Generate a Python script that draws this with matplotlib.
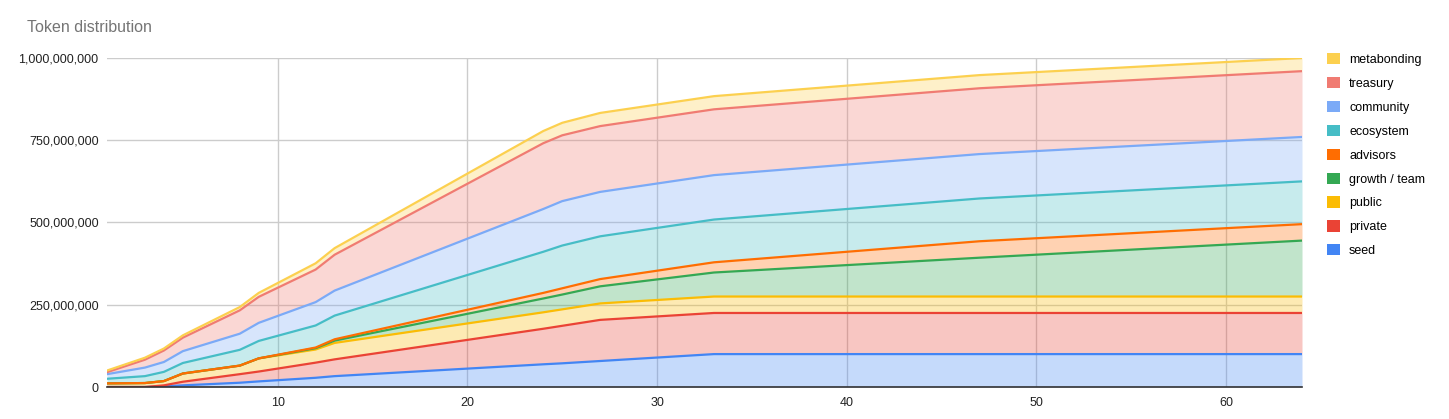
import numpy as np
import matplotlib
matplotlib.use('Agg')
import matplotlib.pyplot as plt
from matplotlib.patches import Patch
from matplotlib.ticker import FuncFormatter

plt.rcParams['font.family'] = ['Liberation Sans', 'DejaVu Sans']

# months where the curves change slope
months = [1, 3, 4, 5, 8, 9, 12, 13, 24, 25, 27, 33, 47, 64]

# tokens per bucket (millions), bottom of the stack first
seed = [0, 0, 2, 5, 13, 17, 28, 33, 69, 72, 79, 100, 100, 100]
private = [0, 0, 3, 11, 26, 30, 46, 51, 108, 114, 125, 125, 125, 125]
public = [11, 12, 13, 25, 26, 40, 40, 50, 50, 50, 50, 50, 50, 50]
growth_team = [0, 0, 0, 0, 0, 0, 4, 7, 42, 45, 52, 73, 118, 170]
advisors = [0, 0, 0, 0, 0, 0, 2, 4, 17, 19, 22, 31, 50, 50]
ecosystem = [14, 21, 28, 32, 48, 53, 67, 72, 125, 130, 130, 130, 130, 130]
community = [14, 26, 30, 36, 49, 55, 71, 76, 130, 135, 135, 135, 135, 135]
treasury = [6, 24, 35, 41, 71, 79, 99, 109, 200, 200, 200, 200, 200, 200]
metabonding = [5, 6, 6, 7, 10, 12, 19, 20, 37, 38, 40, 40, 40, 40]

names = ['seed', 'private', 'public', 'growth / team', 'advisors',
         'ecosystem', 'community', 'treasury', 'metabonding']
series = [seed, private, public, growth_team, advisors,
          ecosystem, community, treasury, metabonding]
colors = ['#4285F4', '#EA4335', '#FBBC04', '#34A853', '#FF6D01',
          '#46BDC6', '#7BAAF7', '#F07B72', '#FCD04F']

x = np.array(months)
vals = np.array(series, dtype=float) * 1e6
tops = np.cumsum(vals, axis=0)

fig = plt.figure(figsize=(14.49, 4.19), dpi=100)
ax = fig.add_axes([107 / 1449, 1 - 387 / 419, (1302 - 107) / 1449, (387 - 58) / 419])

bottom = np.zeros(len(x))
for top, c in zip(tops, colors):
    ax.fill_between(x, bottom, top, color=c, alpha=0.3, linewidth=0, zorder=2)
    bottom = top
for top, c in zip(tops, colors):
    ax.plot(x, top, color=c, linewidth=1.6, zorder=3, solid_joinstyle='round')

ax.set_xlim(1, 64)
ax.set_ylim(0, 1e9)
ax.set_xticks([10, 20, 30, 40, 50, 60])
ax.set_yticks([0, 250e6, 500e6, 750e6, 1e9])
ax.yaxis.set_major_formatter(FuncFormatter(lambda v, p: '{:,.0f}'.format(v)))
ax.grid(True, color='#cccccc', linewidth=1, zorder=0)
ax.set_axisbelow(True)
for s in ['left', 'right', 'top']:
    ax.spines[s].set_visible(False)
ax.spines['bottom'].set_color('#333333')
ax.spines['bottom'].set_linewidth(1.2)
ax.spines['bottom'].set_zorder(5)
ax.tick_params(length=0, labelsize=9, labelcolor='#222222')
ax.tick_params(axis='y', pad=6)
ax.tick_params(axis='x', pad=7)

fig.text(27 / 1449, 1 - 27 / 419, 'Token distribution', fontsize=11.5,
         color='#757575', va='center', ha='left')

handles = [Patch(facecolor=c, edgecolor='none') for c in colors][::-1]
ax.legend(handles, names[::-1], loc='upper left',
          bbox_to_anchor=(1321 / 1449, 1 - 47 / 419), bbox_transform=fig.transFigure,
          frameon=False, fontsize=9, handlelength=1.0, handleheight=1.0,
          handletextpad=0.75, labelspacing=0.88, borderpad=0)

fig.savefig('out.png', dpi=100)
